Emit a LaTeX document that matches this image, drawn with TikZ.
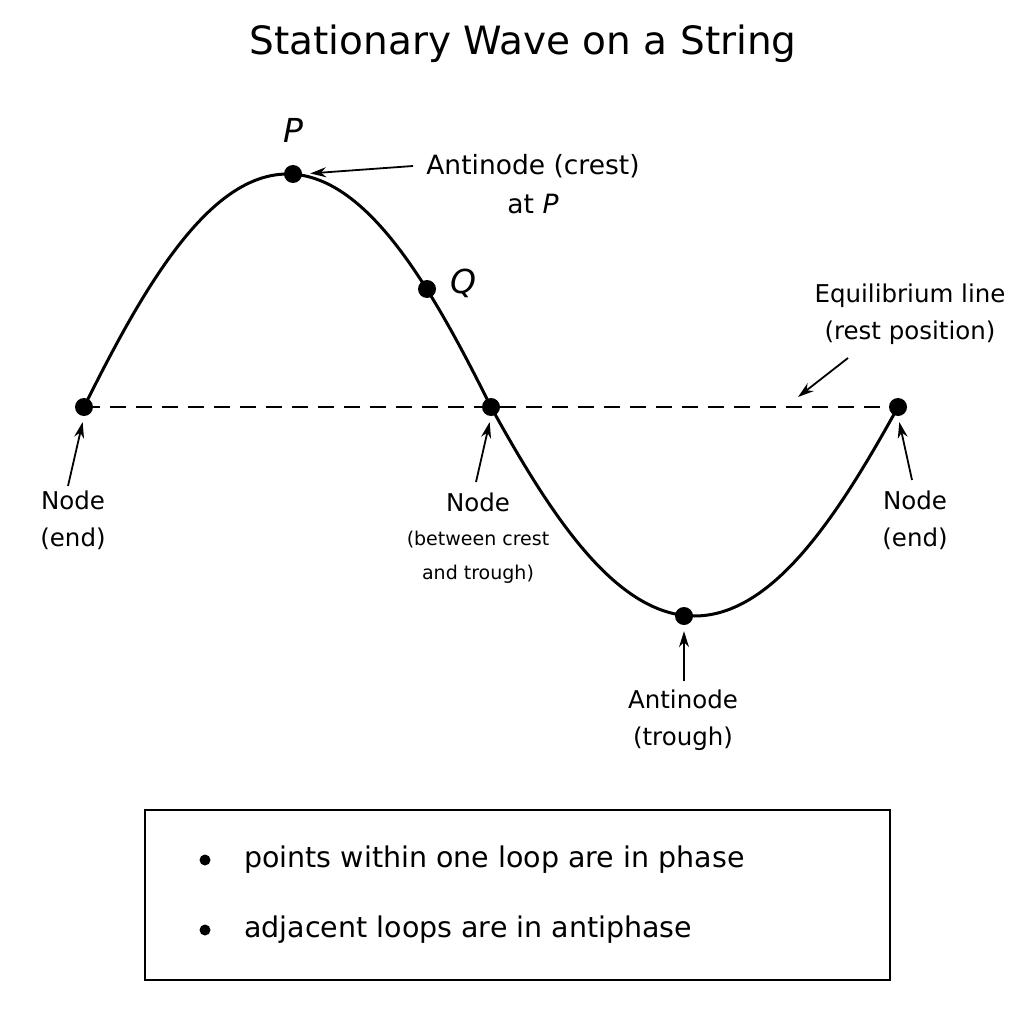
\documentclass[tikz,border=0pt]{standalone}
\usepackage{fontspec}
\setmainfont{DejaVu Sans}
\usetikzlibrary{arrows.meta}
\begin{document}
\begin{tikzpicture}[x=1pt,y=-1pt,
  dot/.style={circle,fill=black,inner sep=0pt,minimum size=18pt},
  lbl/.style={font=\fontsize{24.5}{37}\selectfont,align=center,inner sep=0pt},
  small/.style={font=\fontsize{19}{34}\selectfont,align=center,inner sep=0pt},
  ptlbl/.style={font=\fontsize{33}{36}\selectfont\itshape,inner sep=0pt},
  pointer/.style={line width=1.8pt,-{Stealth[length=16pt,width=10pt]}},
  wave/.style={line width=3pt},
  eqline/.style={line width=2.4pt,dash pattern=on 16pt off 10pt},
  boxtext/.style={font=\fontsize{28.5}{30}\selectfont,anchor=west,inner sep=0pt}]
\useasboundingbox[fill=white] (0,0) rectangle (1024,1024);

% title
\node[font=\fontsize{39}{44}\selectfont] (title) at (523,44) {Stationary Wave on a String};

% positions
\coordinate (pL) at (84,407);
\coordinate (pM) at (491,407);
\coordinate (pR) at (898,407);
\coordinate (pP) at (293,174);
\coordinate (pT) at (684,616);
\coordinate (pQ) at (427,289);

% equilibrium line and wave
\draw[eqline] (pL) -- (pR);
\draw[wave] plot[domain=0:2,samples=201,smooth]
  ({84+407*\x},{407+((\x<1)?-233:209)*abs(sin(180*\x))*(1.12-0.12*abs(sin(180*\x)))});

% dots
\node[dot] (L) at (pL) {};
\node[dot] (M) at (pM) {};
\node[dot] (R) at (pR) {};
\node[dot] (P) at (pP) {};
\node[dot] (T) at (pT) {};
\node[dot] (Q) at (pQ) {};

% point labels
\node[ptlbl] (Plbl) at (293,130) {P};
\node[ptlbl] (Qlbl) at (463,283) {Q};

% crest label
\node[lbl,font=\fontsize{26.5}{39}\selectfont] (crest) at (533,184) {Antinode (crest)\\at \textit{P}};
\coordinate (crestTail) at (413,166);
\draw[pointer, shorten >=8pt] (crestTail) -- (P.east);

% equilibrium label
\node[lbl] (eqlbl) at (910,314) {Equilibrium line\\(rest position)};
\coordinate (eqTail) at (848,358);
\coordinate (eqHead) at (798,397);
\draw[pointer] (eqTail) -- (eqHead);

% left node label
\node[lbl] (Llbl) at (73,520) {Node\\(end)};
\coordinate (LTail) at (68,486);
\draw[pointer, shorten >=6pt] (LTail) -- (L.south);

% middle node label
\node[lbl] (Mlbl) at (478,502) {Node};
\node[small] (Msub) at (478,557) {(between crest\\and trough)};
\coordinate (MTail) at (476,482);
\draw[pointer, shorten >=6pt] (MTail) -- (M.south);

% right node label
\node[lbl] (Rlbl) at (915,520) {Node\\(end)};
\coordinate (RTail) at (912,480);
\draw[pointer, shorten >=6pt] (RTail) -- (R.south);

% trough label
\node[lbl] (Tlbl) at (683,720) {Antinode\\(trough)};
\coordinate (TTail) at (684,681);
\draw[pointer, shorten >=6pt] (TTail) -- (T.south);

% summary box
\node[draw,line width=2pt,minimum width=745pt,minimum height=170pt,inner sep=0pt] (box) at (517.5,895) {};
\node[dot,minimum size=11pt] (b1) at (205,860) {};
\node[dot,minimum size=11pt] (b2) at (205,930) {};
\node[boxtext] (t1) at (244,860) {points within one loop are in phase};
\node[boxtext] (t2) at (244,930) {adjacent loops are in antiphase};
\end{tikzpicture}
\end{document}
